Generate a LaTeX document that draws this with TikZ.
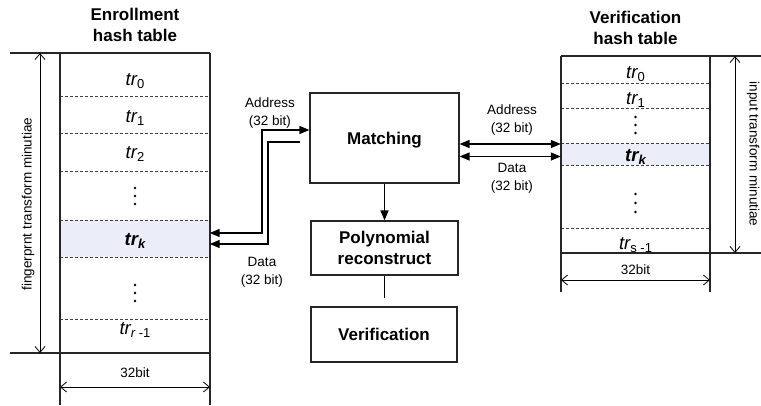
\documentclass[tikz,border=0pt]{standalone}
\usepackage{fontspec}
\setmainfont{Liberation Sans}
\usetikzlibrary{arrows.meta,calc}
\definecolor{hlblue}{HTML}{EBEEF8}
\newcommand\sbs[1]{\raisebox{-3.5pt}{\fontsize{13}{13}\selectfont #1}}
\begin{document}
\begin{tikzpicture}[x=1pt,y=-1pt,
  tbl/.style={line width=1.1pt, draw=black!85},
  sepl/.style={dash pattern=on 3pt off 2pt, draw=black!75, line width=0.8pt},
  hl/.style={fill=hlblue, draw=none, inner sep=0pt, minimum width=149pt},
  trlab/.style={anchor=base, inner sep=0pt, font=\fontsize{18.5}{20}\selectfont\itshape},
  lab/.style={align=center, inner sep=0pt, font=\fontsize{13.5}{17.5}\selectfont},
  blab/.style={anchor=base, inner sep=0pt, font=\fontsize{13.5}{17.5}\selectfont},
  ttl/.style={align=center, inner sep=0pt, font=\fontsize{17}{20.5}\selectfont\bfseries},
  proc/.style={draw=black!85, line width=1.2pt, align=center, inner sep=0pt, font=\fontsize{17}{21}\selectfont\bfseries},
  bus/.style={line width=1.3pt, -{Triangle[length=10pt,width=8pt]}},
  busr/.style={line width=1.3pt, {Triangle[length=10pt,width=8pt]}-},
  busb/.style={line width=1.3pt, {Triangle[length=10pt,width=8pt]}-{Triangle[length=10pt,width=8pt]}},
  dimarr/.style={line width=0.8pt, {Straight Barb[length=6pt,width=10pt]}-{Straight Barb[length=6pt,width=10pt]}},
  dotn/.style={circle, fill=black, inner sep=0pt, minimum size=2.8pt},
]
\useasboundingbox (0,0) rectangle (761,405);

% ---------- titles
\node[ttl] (et) at (135,24.8) {Enrollment\\hash table};
\node[ttl] (vt) at (635.5,27.8) {Verification\\hash table};

% ---------- enrollment table
\node[hl, minimum height=37pt] (ek) at (135,238.5) {};
\foreach \yy in {96,133,171,220,257,319} \draw[sepl] (60,\yy) -- (210,\yy);
\draw[tbl] (10,53) -- (210,53);
\draw[tbl] (10,353) -- (210,353);
\draw[tbl] (60,53) -- (60,405);
\draw[tbl] (210,53) -- (210,405);

\node[trlab] (e0) at (135,85) {tr\sbs{\upshape 0}};
\node[trlab] (e1) at (135,122) {tr\sbs{\upshape 1}};
\node[trlab] (e2) at (135,158) {tr\sbs{\upshape 2}};
\node[dotn] (ed1) at (135,188) {};
\node[dotn] (ed2) at (135,196) {};
\node[dotn] (ed3) at (135,204) {};
\node[trlab] (ekt) at (135,245) {\bfseries tr\sbs{k}};
\node[dotn] (ed4) at (135,285) {};
\node[dotn] (ed5) at (135,293) {};
\node[dotn] (ed6) at (135,301) {};
\node[trlab] (er) at (135,334) {tr\sbs{r \upshape -1}};

\draw[dimarr] (40,53) -- (40,353);
\node[blab, rotate=90] (efp) at (31.5,204) {fingerprnt transform minutiae};
\draw[dimarr] (60,387) -- (210,387);
\node[blab] (e32) at (135,377) {32bit};

% ---------- verification table
\node[hl, minimum height=22pt] (vk) at (635.5,154) {};
\foreach \yy in {83,108,143,165,228} \draw[sepl] (561,\yy) -- (710,\yy);
\draw[tbl] (561,56) -- (761,56);
\draw[tbl] (561,253) -- (761,253);
\draw[tbl] (561,56) -- (561,292);
\draw[tbl] (710,56) -- (710,292);

\node[trlab] (v0) at (635.5,78) {tr\sbs{\upshape 0}};
\node[trlab] (v1) at (635.5,104) {tr\sbs{\upshape 1}};
\node[dotn] (vd1) at (635.5,117) {};
\node[dotn] (vd2) at (635.5,125) {};
\node[dotn] (vd3) at (635.5,133) {};
\node[trlab] (vkt) at (635.5,161) {\bfseries tr\sbs{k}};
\node[dotn] (vd4) at (635.5,194) {};
\node[dotn] (vd5) at (635.5,203) {};
\node[dotn] (vd6) at (635.5,212) {};
\node[trlab] (vs) at (635.5,249) {tr\sbs{\upshape s -1}};

\draw[dimarr] (735,56) -- (735,253);
\node[blab, rotate=-90] (vin) at (749.5,154) {input transform minutiae};
\draw[dimarr] (561,280) -- (710,280);
\node[blab] (v32) at (635.5,274) {32bit};

% ---------- processing blocks
\node[proc, minimum width=149pt, minimum height=90pt, text depth=0pt] (mat) at (384.5,138) {Matching};
\node[proc, minimum width=147pt, minimum height=54pt] (poly) at (384.5,248) {Polynomial\\reconstruct};
\node[proc, minimum width=146pt, minimum height=55pt] (ver) at (384,334.5) {Verification};
\coordinate (pend) at (384.5,298);

\draw[bus] (mat) -- (poly);
\draw[line width=1.2pt] (poly) -- (pend);

% ---------- left buses
\coordinate (eA) at ($(ek.east)+(0,-5.5)$);
\coordinate (eD) at ($(ek.east)+(0,5.5)$);
\coordinate (mA) at ($(mat.west)+(0,-8)$);
\coordinate (dEnd) at (300,142);
\draw[busb] (eA) -| (262,130) -- (mA);
\draw[busr] (eD) -| (268,142) -- (dEnd);
\node[lab] (la) at (270,113.1) {Address\\(32 bit)};
\node[lab] (ld) at (262,272.1) {Data\\(32 bit)};

% ---------- right buses
\coordinate (vA) at ($(vk.west)+(0,-10)$);
\coordinate (vD) at ($(vk.west)+(0,2.5)$);
\draw[busb] (mat.east |- vA) -- (vA);
\draw[busb] (mat.east |- vD) -- (vD);
\node[lab] (ra) at (512,120.1) {Address\\(32 bit)};
\node[lab] (rd) at (512,178.1) {Data\\(32 bit)};
\end{tikzpicture}
\end{document}
